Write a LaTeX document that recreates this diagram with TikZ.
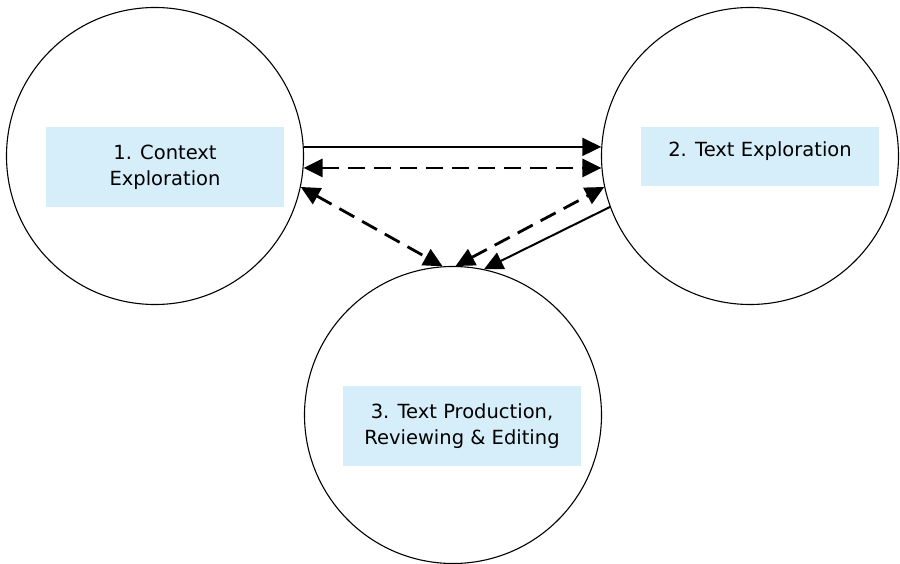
\documentclass[tikz,border=0pt]{standalone}
\usepackage{fontspec}
\setmainfont{DejaVu Sans}
\usetikzlibrary{arrows.meta}
\definecolor{boxblue}{HTML}{D6EEF9}
\begin{document}
\begin{tikzpicture}[x=1pt,y=-1pt,
  stage/.style={draw=black,line width=1.1pt,circle,minimum size=297pt,inner sep=0pt},
  lbl/.style={fill=boxblue,inner sep=0pt,font=\fontsize{19.5}{26}\selectfont,align=center},
  tip/.style={-{Triangle[length=19pt,width=18pt]}},
  tips/.style={{Triangle[length=19pt,width=18pt]}-{Triangle[length=19pt,width=18pt]}},
  sol/.style={line width=2pt},
  dsh/.style={line width=2.8pt,dash pattern=on 17pt off 9pt}]
\useasboundingbox (0,0) rectangle (900,564);
\node[stage] (c1) at (155,156) {};
\node[stage] (c2) at (750,156) {};
\node[stage] (c3) at (453,415) {};
\node[lbl,minimum width=238pt,minimum height=80pt] (b1) at (165,167) {1. Context\\Exploration};
\node[lbl,minimum width=238pt,minimum height=59pt] (b2) at (760,156.5) {};
\node[font=\fontsize{19.5}{26}\selectfont,anchor=base] (t2) at (760,157) {2. Text Exploration};
\node[lbl,minimum width=238pt,minimum height=80pt] (b3) at (462,426) {3. Text Production,\\Reviewing \& Editing};
% connector end points on the circles
\path (c1.center) ++(-3.5:149) coordinate (p1a);
\path (c2.center) ++(183.5:149) coordinate (p2a);
\path (c1.center) ++(4.6:149) coordinate (p1b);
\path (c2.center) ++(175.4:149) coordinate (p2b);
\path (c1.center) ++(12:149) coordinate (p1c);
\path (c3.center) ++(-94:149) coordinate (p3a);
\path (c3.center) ++(-89:149) coordinate (p3b);
\path (c2.center) ++(168:149) coordinate (p2c);
\path (c2.center) ++(160:149) coordinate (p2d);
\path (c3.center) ++(-78:149) coordinate (p3c);
\draw[sol,tip] (p1a) -- (p2a);
\draw[dsh,tips] (p1b) -- (p2b);
\draw[dsh,tips] (p1c) -- (p3a);
\draw[dsh,tips] (p3b) -- (p2c);
\draw[sol,tip] (p2d) -- (p3c);
\end{tikzpicture}
\end{document}
